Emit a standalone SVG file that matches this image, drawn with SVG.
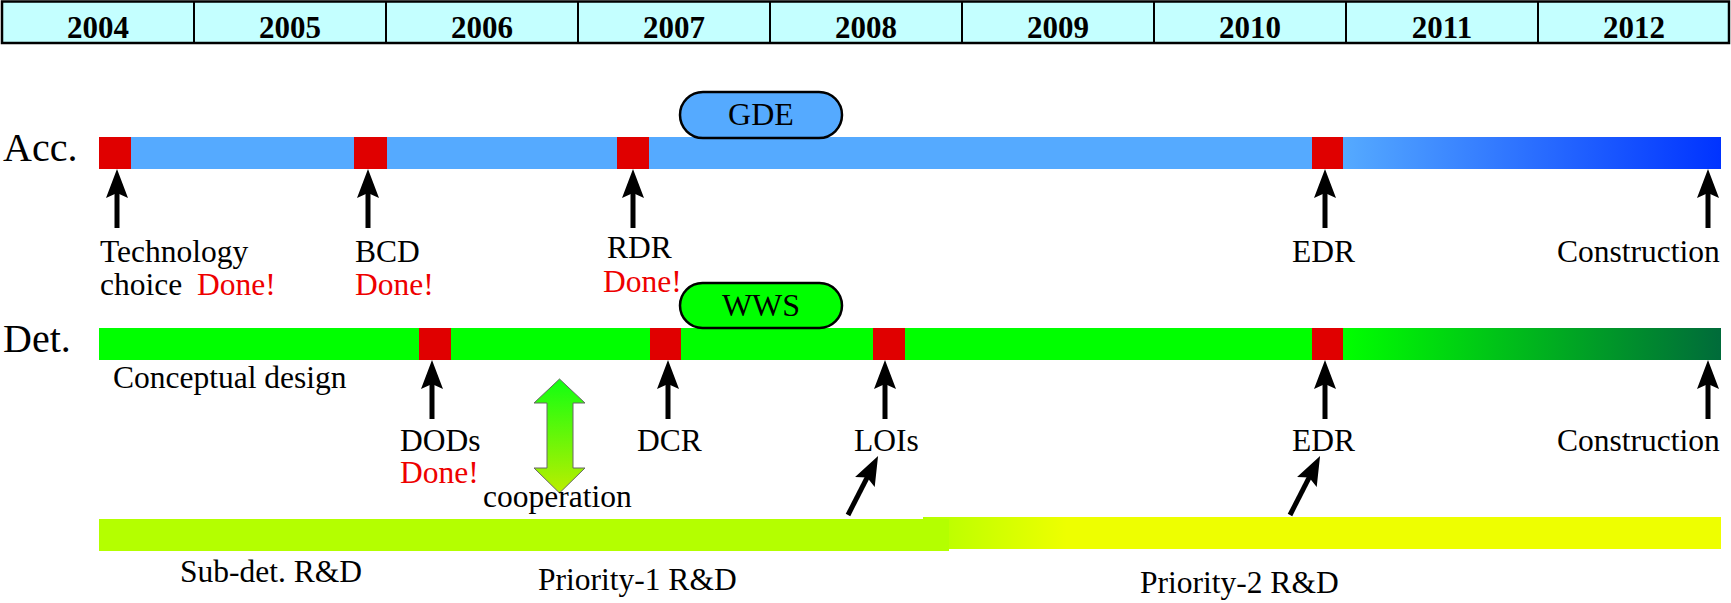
<svg xmlns="http://www.w3.org/2000/svg" width="1731" height="603" viewBox="0 0 1731 603">
<style>
.yr{font-family:"Liberation Serif","Times New Roman",serif;font-weight:bold;font-size:31px;fill:#000;text-anchor:middle}
.row{font-family:"Liberation Serif","Times New Roman",serif;font-size:40px;fill:#000}
.lbl{font-family:"Liberation Serif","Times New Roman",serif;font-size:31.5px;fill:#000}
.done{font-family:"Liberation Serif","Times New Roman",serif;font-size:31.5px;fill:#ee0000}
.ptxt{font-family:"Liberation Serif","Times New Roman",serif;font-size:32px;fill:#000;text-anchor:middle}
.mk{fill:#e00000}
.arr{stroke:#000;stroke-width:5;fill:none;marker-end:url(#ah)}
.pill{stroke:#000;stroke-width:2.5}
</style>
<defs>
<marker id="ah" markerUnits="userSpaceOnUse" viewBox="0 0 29 22" markerWidth="29" markerHeight="22" refX="13" refY="11" orient="auto">
<path d="M0,0 L29,11 L0,22 L5,11 z" fill="#000"/>
</marker>
<linearGradient id="gAcc" x1="0" y1="0" x2="1" y2="0">
<stop offset="0" stop-color="#55aaff"/>
<stop offset="0.13" stop-color="#55aaff"/>
<stop offset="1" stop-color="#0033ff"/>
</linearGradient>
<linearGradient id="gDet" x1="0" y1="0" x2="1" y2="0">
<stop offset="0" stop-color="#00ff00"/>
<stop offset="0.41" stop-color="#00ff00"/>
<stop offset="1" stop-color="#006b3a"/>
</linearGradient>
<linearGradient id="gRD" x1="0" y1="0" x2="1" y2="0">
<stop offset="0" stop-color="#b4ff00"/>
<stop offset="0.18" stop-color="#eeff00"/>
<stop offset="1" stop-color="#eeff00"/>
</linearGradient>
<linearGradient id="gCoop" x1="0" y1="0" x2="0" y2="1">
<stop offset="0" stop-color="#11ff11"/>
<stop offset="1" stop-color="#bbee00"/>
</linearGradient>
</defs>

<g id="header">
<rect x="2" y="1.5" width="1727" height="41.5" fill="#c4ffff" stroke="#000" stroke-width="2.5"/>
<g stroke="#000" stroke-width="2">
<line x1="194" y1="1.5" x2="194" y2="43"/>
<line x1="386" y1="1.5" x2="386" y2="43"/>
<line x1="578" y1="1.5" x2="578" y2="43"/>
<line x1="770" y1="1.5" x2="770" y2="43"/>
<line x1="962" y1="1.5" x2="962" y2="43"/>
<line x1="1154" y1="1.5" x2="1154" y2="43"/>
<line x1="1346" y1="1.5" x2="1346" y2="43"/>
<line x1="1538" y1="1.5" x2="1538" y2="43"/>
</g>
<text class="yr" x="98" y="38">2004</text>
<text class="yr" x="290" y="38">2005</text>
<text class="yr" x="482" y="38">2006</text>
<text class="yr" x="674" y="38">2007</text>
<text class="yr" x="866" y="38">2008</text>
<text class="yr" x="1058" y="38">2009</text>
<text class="yr" x="1250" y="38">2010</text>
<text class="yr" x="1442" y="38">2011</text>
<text class="yr" x="1634" y="38">2012</text>
</g>

<g id="acc-bar">
<text class="row" x="3" y="161">Acc.</text>
<rect x="99" y="137" width="1192" height="32" fill="#55aaff"/>
<rect x="1287" y="137" width="434" height="32" fill="url(#gAcc)"/>
</g>
<g id="gde">
<rect class="pill" x="680" y="92" width="162" height="46" rx="23" fill="#55aaff"/>
<text class="ptxt" x="761" y="125">GDE</text>
</g>
<g id="acc-tech"><rect class="mk" x="99" y="137" width="32" height="32"/>
<text class="lbl" x="100" y="262">Technology</text>
<text class="lbl" x="100" y="295">choice</text>
<text class="done" x="197" y="295">Done!</text></g>
<g id="acc-bcd"><rect class="mk" x="354" y="137" width="33" height="32"/>
<text class="lbl" x="355" y="262">BCD</text>
<text class="done" x="355" y="295">Done!</text></g>
<g id="acc-rdr"><rect class="mk" x="617" y="137" width="32" height="32"/>
<text class="lbl" x="607" y="258">RDR</text>
<text class="done" x="603" y="292">Done!</text></g>
<g id="acc-edr"><rect class="mk" x="1312" y="137" width="31" height="32"/>
<text class="lbl" x="1292" y="262">EDR</text></g>
<g id="acc-constr"><text class="lbl" x="1557" y="262">Construction</text></g>

<g id="det-bar">
<text class="row" x="3" y="352">Det.</text>
<rect x="99" y="328" width="990" height="32" fill="#00ff00"/>
<rect x="1083" y="328" width="638" height="32" fill="url(#gDet)"/>
<text class="lbl" x="113" y="388">Conceptual design</text>
</g>
<g id="wws">
<rect class="pill" x="680" y="283" width="162" height="45" rx="22.5" fill="#00ff00"/>
<text class="ptxt" x="761" y="316">WWS</text>
</g>
<g id="det-dods"><rect class="mk" x="419" y="328" width="32" height="32"/>
<text class="lbl" x="400" y="451">DODs</text>
<text class="done" x="400" y="483">Done!</text></g>
<g id="det-dcr"><rect class="mk" x="650" y="328" width="31" height="32"/>
<text class="lbl" x="637" y="451">DCR</text></g>
<g id="det-lois"><rect class="mk" x="873" y="328" width="32" height="32"/>
<text class="lbl" x="854" y="451">LOIs</text></g>
<g id="det-edr"><rect class="mk" x="1312" y="328" width="31" height="32"/>
<text class="lbl" x="1292" y="451">EDR</text></g>
<g id="det-constr"><text class="lbl" x="1557" y="451">Construction</text></g>

<g id="cooperation">
<path d="M559.5,379 L585,403 L573,403 L573,468 L585,468 L559.5,493 L534,468 L547,468 L547,403 L534,403 Z" fill="url(#gCoop)" stroke="#666" stroke-width="1"/>
<text class="lbl" x="483" y="507">cooperation</text>
</g>

<g id="rd-bars">
<rect x="923" y="517" width="798" height="32" fill="url(#gRD)"/>
<rect x="99" y="519" width="850" height="32" fill="#b4ff00"/>
<text class="lbl" x="180" y="582">Sub-det. R&amp;D</text>
<text class="lbl" x="538" y="590">Priority-1 R&amp;D</text>
<text class="lbl" x="1140" y="593">Priority-2 R&amp;D</text>
</g>

<g id="connectors">
<line class="arr" x1="117" y1="228" x2="117" y2="185"/>
<line class="arr" x1="368" y1="228" x2="368" y2="185"/>
<line class="arr" x1="633" y1="228" x2="633" y2="185"/>
<line class="arr" x1="1325" y1="228" x2="1325" y2="185"/>
<line class="arr" x1="1708" y1="228" x2="1708" y2="185"/>
<line class="arr" x1="432" y1="419" x2="432" y2="376"/>
<line class="arr" x1="668" y1="419" x2="668" y2="376"/>
<line class="arr" x1="885" y1="419" x2="885" y2="376"/>
<line class="arr" x1="1325" y1="419" x2="1325" y2="376"/>
<line class="arr" x1="1708" y1="419" x2="1708" y2="376"/>
<line class="arr" x1="848" y1="515" x2="870.8" y2="470.3"/>
<line class="arr" x1="1290" y1="515" x2="1312.8" y2="470.3"/>
</g>
</svg>
